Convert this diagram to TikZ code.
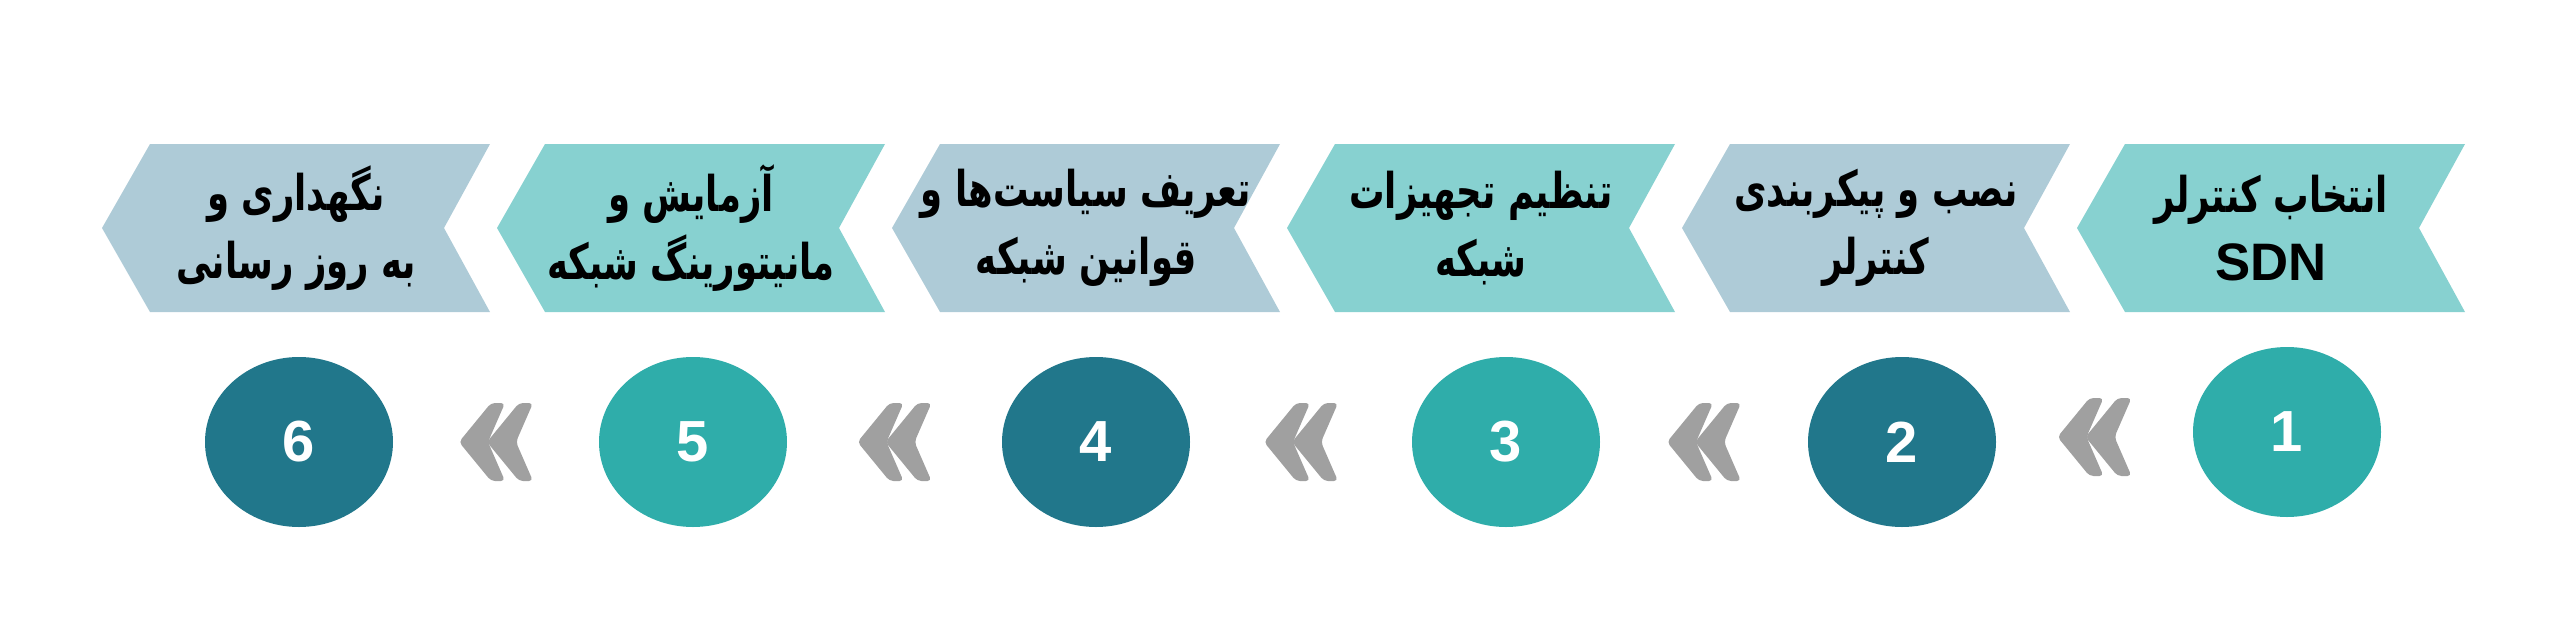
\documentclass[tikz,border=0pt]{standalone}
\usepackage{fontspec}
\setmainfont{Liberation Sans}
\newfontfamily\farsi[Script=Arabic,FakeStretch=0.72]{DejaVu Sans}
\TeXXeTstate=1
\usetikzlibrary{shapes.geometric,calc}

\definecolor{tealA}{HTML}{87D1D0}
\definecolor{greyblue}{HTML}{AECBD7}
\definecolor{tealB}{HTML}{2FADAA}
\definecolor{petrol}{HTML}{21778B}
\definecolor{arrgrey}{HTML}{A0A0A0}

\tikzset{
  steptext/.style={align=center,text=black,font=\farsi\bfseries\fontsize{14pt}{19.5pt}\selectfont},
  numdisk/.style={ellipse,minimum width=18.8mm,minimum height=17mm,inner sep=0pt,
    text=white,font=\bfseries\fontsize{16.5pt}{18pt}\selectfont},
  arrowpart/.style={fill=arrgrey,rounded corners=0.4mm}
}

\begin{document}
\begin{tikzpicture}[x=0.1mm,y=0.1mm]
\useasboundingbox (0,0) rectangle (2560,622);
% the six chevrons
\foreach \k/\col in {1/tealA,2/greyblue,3/tealA,4/greyblue,5/tealA,6/greyblue}{
  \pgfmathsetmacro{\R}{2465-395*(\k-1)}
  \fill[\col] (\R-388,394) -- (\R-340,478) -- (\R,478) -- (\R-46,394) -- (\R,310) -- (\R-340,310) -- cycle;
}
\node[steptext] (s1) at (2271,394) {\beginR انتخاب کنترلر\endR\\{\rmfamily\fontsize{15pt}{19.5pt}\selectfont SDN}};
\node[steptext] (s2) at (1876,394) {\beginR نصب و پیکربندی\endR\\\beginR کنترلر\endR};
\node[steptext] (s3) at (1481,394) {\beginR تنظیم تجهیزات\endR\\\beginR شبکه\endR};
\node[steptext] (s4) at (1086,394) {\beginR تعریف سیاست‌ها و\endR\\\beginR قوانین شبکه\endR};
\node[steptext] (s5) at (691,394) {\beginR آزمایش و\endR\\\beginR مانیتورینگ شبکه\endR};
\node[steptext] (s6) at (296,394) {\beginR نگهداری و\endR\\\beginR به روز رسانی\endR};
% numbered disks
\node[numdisk,fill=tealB] (c1) at (2287,190) {1};
\node[numdisk,fill=petrol] (c2) at (1902,180) {2};
\node[numdisk,fill=tealB] (c3) at (1506,180) {3};
\node[numdisk,fill=petrol] (c4) at (1096,180) {4};
\node[numdisk,fill=tealB] (c5) at (693,180) {5};
\node[numdisk,fill=petrol] (c6) at (299,180) {6};
% double arrows between the disks
\foreach \a/\b in {c1/c2,c2/c3,c3/c4,c4/c5,c5/c6}{
  \begin{scope}[shift={($(\a)!0.5!(\b)$)}]
    \fill[arrowpart] (-37,0) -- (-5,39) -- (9,39) -- (-8,0) -- (9,-39) -- (-5,-39) -- cycle;
    \fill[arrowpart] (-9,0) -- (23,39) -- (37,39) -- (20,0) -- (37,-39) -- (23,-39) -- cycle;
  \end{scope}
}
\end{tikzpicture}
\end{document}
